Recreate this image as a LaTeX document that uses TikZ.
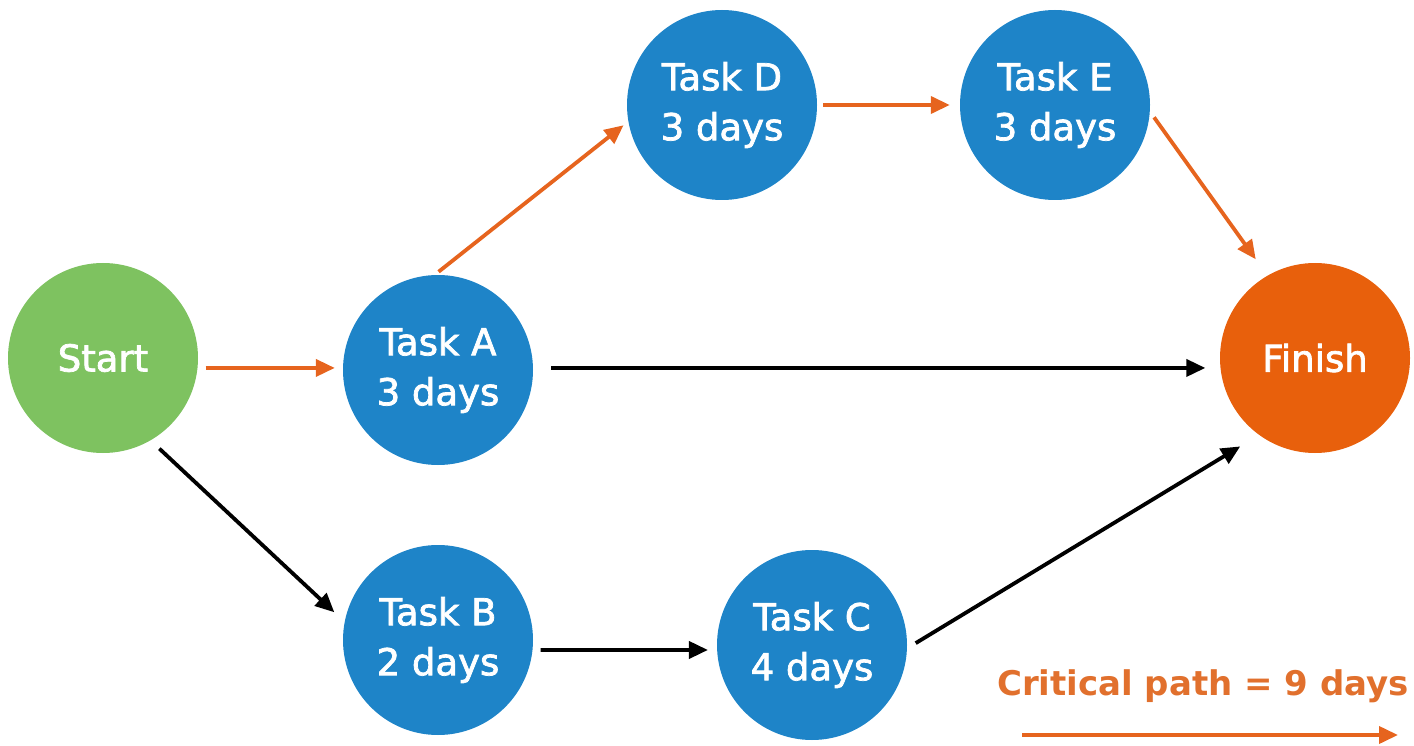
\documentclass[tikz,border=0pt]{standalone}
\usepackage{fontspec}
\setmainfont{DejaVu Sans}[FakeBold=2]
\newfontfamily\critfont{DejaVu Sans Bold}
\usetikzlibrary{arrows.meta}
\definecolor{taskblue}{RGB}{30,132,200}
\definecolor{startgreen}{RGB}{126,194,96}
\definecolor{finorange}{RGB}{232,96,12}
\definecolor{critorange}{RGB}{230,100,30}
\definecolor{crittext}{RGB}{225,112,45}
\tikzset{
  circ/.style={circle, minimum size=190pt, inner sep=0pt, text=white, align=center,
    font=\fontsize{37}{50}\selectfont},
  task/.style={circ, fill=taskblue},
  arr/.style={line width=3.8pt, -{Triangle[length=19pt,width=17pt]}},
  crit/.style={arr, draw=critorange},
  norm/.style={arr, draw=black},
}
\begin{document}
\begin{tikzpicture}[x=1pt,y=-1pt]
\useasboundingbox (0,0) rectangle (1414,746);
\node[circ, fill=startgreen] (S) at (103,358) {Start};
\node[task] (A) at (438,370) {Task A\\3 days};
\node[task] (D) at (722,105) {Task D\\3 days};
\node[task] (E) at (1055,105) {Task E\\3 days};
\node[circ, fill=finorange] (F) at (1315,358) {Finish};
\node[task] (B) at (438,640) {Task B\\2 days};
\node[task] (C) at (812,645) {Task C\\4 days};
\draw[crit, shorten <=8pt, shorten >=8pt] (S.-6) -- (S.-6 -| A.west);
\draw[crit, shorten <=5pt, shorten >=6pt] (A.92) -- (D.190);
\draw[crit, shorten <=6pt, shorten >=10pt] (D.east) -- (E.west);
\draw[crit, shorten <=7pt, shorten >=20pt] (E.-4) -- (F.120);
\draw[norm, shorten <=18pt, shorten >=15pt] (A.east |- 0,368) -- (F.186);
\draw[norm, shorten <=12pt, shorten >=14pt] (S.-60) -- (B.169);
\draw[norm, shorten <=8pt, shorten >=9pt] (B.-6) -- (C.183);
\draw[norm, shorten <=10pt, shorten >=22pt] (C.-2) -- (F.234);
\node[font=\critfont\fontsize{34}{40}\selectfont, text=crittext] (L) at (1203,686) {Critical path = 9 days};
\coordinate (K1) at (1022,735);
\coordinate (K2) at (1398,735);
\draw[crit] (K1) -- (K2);
\end{tikzpicture}
\end{document}
